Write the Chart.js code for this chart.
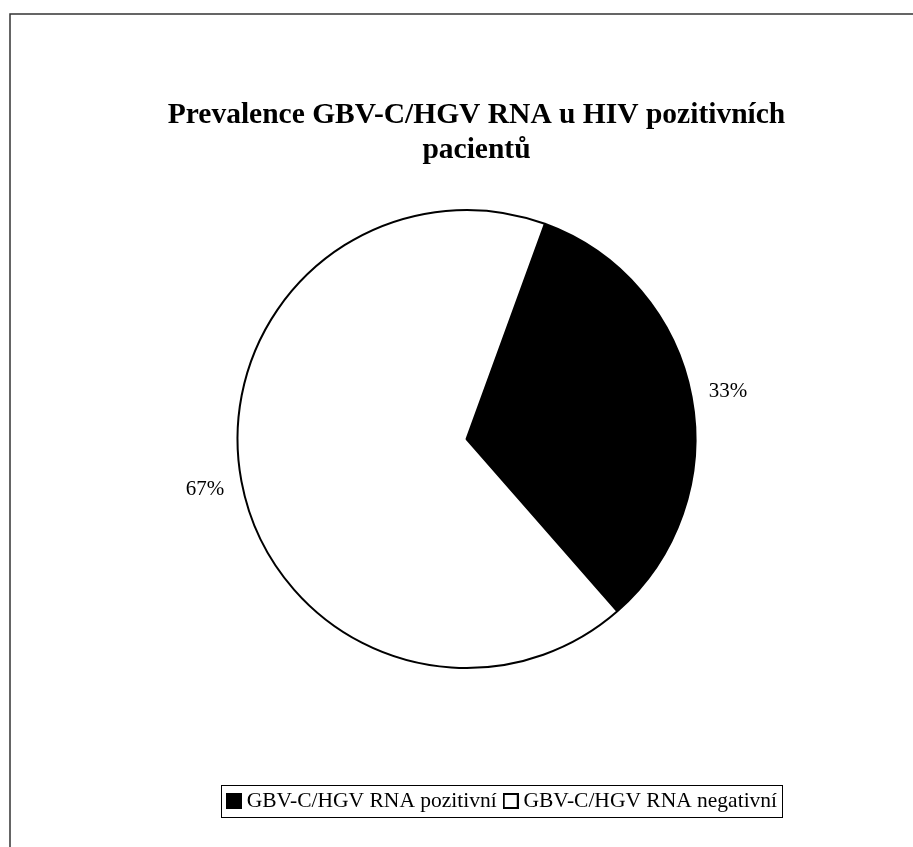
<!DOCTYPE html>
<html>
<head>
<meta charset="utf-8">
<script src="https://cdn.jsdelivr.net/npm/chart.js@4.4.0/dist/chart.umd.min.js"></script>
<style>
  html, body { margin: 0; padding: 0; background: #fff; }
  #wrap { width: 913px; height: 847px; position: relative; }
</style>
</head>
<body>
<div id="wrap"><canvas id="pie"></canvas></div>
<script>
const titleLines = ["Prevalence GBV-C/HGV RNA u HIV pozitivních", "pacientů"];
const labels = ["GBV-C/HGV RNA pozitivní", "GBV-C/HGV RNA negativní"];
const values = [33, 67];
const colors = ["#000000", "#ffffff"];

const serif = "'Liberation Serif', 'Times New Roman', serif";

// small square used as legend marker
function marker(fill) {
  const c = document.createElement("canvas");
  c.width = 16;
  c.height = 16;
  const x = c.getContext("2d");
  x.fillStyle = fill;
  x.fillRect(1, 1, 14, 14);
  x.strokeStyle = "#000";
  x.lineWidth = 2;
  x.strokeRect(1, 1, 14, 14);
  return c;
}

// frame lines round the picture, box round the legend
const framePlugin = {
  id: "frame",
  afterLayout(chart) {
    // move title and legend a bit to the right, like the original
    chart.titleBlock.left += 10;
    chart.titleBlock.right += 10;
    chart.legend.left += 38;
    chart.legend.right += 38;
  },
  beforeDraw(chart) {
    const ctx = chart.ctx;
    ctx.save();
    ctx.fillStyle = "#fff";
    ctx.fillRect(0, 0, chart.width, chart.height);
    ctx.strokeStyle = "#333";
    ctx.lineWidth = 1.5;
    ctx.beginPath();
    ctx.moveTo(10, chart.height);
    ctx.lineTo(10, 14);
    ctx.lineTo(chart.width, 14);
    ctx.stroke();
    ctx.restore();
  },
  afterDraw(chart) {
    const lg = chart.legend;
    const opts = lg.options.labels;
    const pad = opts.padding;
    const rowW = lg.lineWidths[0];
    const x0 = (lg.left + pad + lg.right - rowW) / 2;
    const x1 = x0 + rowW - pad;
    const top = lg.top + pad;
    const itemH = opts.font.size;
    const ctx = chart.ctx;
    ctx.save();
    ctx.strokeStyle = "#000";
    ctx.lineWidth = 1;
    ctx.strokeRect(Math.round(x0 - 11) + 0.5, Math.round(top - 5) + 0.5, Math.round(x1 - x0 + 16), Math.round(itemH + 10));
    ctx.restore();
  },
};

// percentage labels just outside each slice
const pctPlugin = {
  id: "pct",
  afterDatasetsDraw(chart) {
    const ctx = chart.ctx;
    const meta = chart.getDatasetMeta(0);
    const data = chart.data.datasets[0].data;
    const total = data.reduce((a, v) => a + v, 0);
    ctx.save();
    ctx.font = "21px " + serif;
    ctx.fillStyle = "#000";
    ctx.textAlign = "center";
    ctx.textBaseline = "middle";
    meta.data.forEach((arc, i) => {
      const p = arc.getProps(["x", "y", "startAngle", "endAngle", "outerRadius"], true);
      const mid = (p.startAngle + p.endAngle) / 2;
      const d = p.outerRadius + 37;
      const txt = Math.round((data[i] / total) * 100) + "%";
      ctx.fillText(txt, p.x + Math.cos(mid) * d, p.y + Math.sin(mid) * d + 1.5);
    });
    ctx.restore();
  },
};

const chart = document.getElementById("pie");
const config = {
  type: "pie",
  data: {
    labels: labels,
    datasets: [
      {
        data: values,
        backgroundColor: colors,
        borderColor: "#000",
        borderWidth: 2,
      },
    ],
  },
  options: {
    responsive: true,
    maintainAspectRatio: false,
    animation: false,
    rotation: 20,
    radius: 229,
    layout: { padding: { left: 20, right: 0, top: 0, bottom: 25.25 } },
    plugins: {
      title: {
        display: true,
        text: titleLines,
        color: "#000",
        font: { family: serif, size: 29.5, weight: "bold", lineHeight: 1.2 },
        padding: { top: 97.5, bottom: 31.7 },
      },
      subtitle: {
        display: true,
        position: "bottom",
        weight: 500,
        text: " ",
        font: { size: 10, lineHeight: 1 },
        padding: { top: 90.25, bottom: 0 },
      },
      legend: {
        position: "bottom",
        weight: 1000,
        labels: {
          color: "#000",
          font: { family: serif, size: 21.5 },
          usePointStyle: true,
          pointStyleWidth: 4,
          padding: 12,
          generateLabels(c) {
            const items = Chart.overrides.pie.plugins.legend.labels.generateLabels(c);
            items.forEach((it, i) => {
              it.pointStyle = marker(colors[i]);
            });
            return items;
          },
        },
      },
      tooltip: { enabled: false },
    },
  },
  plugins: [framePlugin, pctPlugin],
};
new Chart(chart, config);
</script>
</body>
</html>
